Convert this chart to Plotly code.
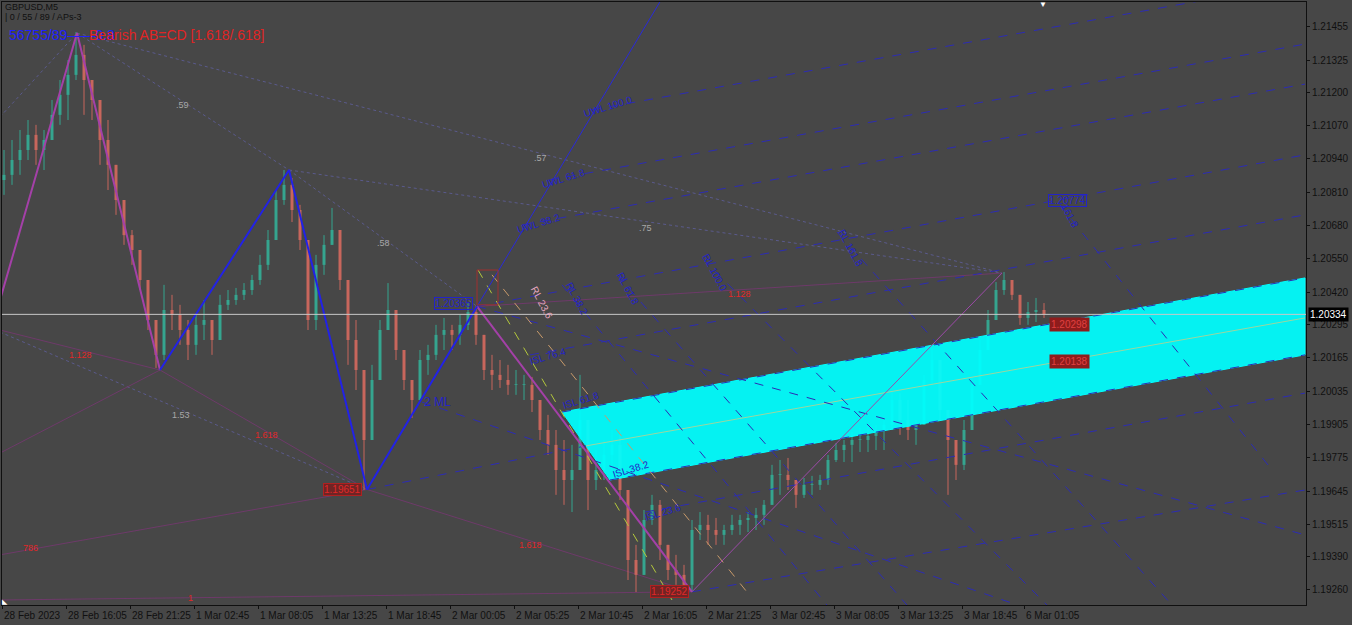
import plotly.graph_objects as go

# ---------------- data ----------------
Y_TICKS = [1.21455, 1.21325, 1.21200, 1.21070, 1.20940, 1.20810, 1.20680, 1.20550, 1.20420,
           1.20295, 1.20165, 1.20035, 1.19905, 1.19775, 1.19645, 1.19515, 1.19390, 1.19260]
X_TICK_BARS = [0, 64, 128, 192, 256, 320, 384, 448, 512, 576, 640, 704, 768, 832, 896, 960, 1022]
X_TICK_TEXT = ["28 Feb 2023", "28 Feb 16:05", "28 Feb 21:25", "1 Mar 02:45", "1 Mar 08:05",
               "1 Mar 13:25", "1 Mar 18:45", "2 Mar 00:05", "2 Mar 05:25", "2 Mar 10:45",
               "2 Mar 16:05", "2 Mar 21:25", "3 Mar 02:45", "3 Mar 08:05", "3 Mar 13:25",
               "3 Mar 18:45", "6 Mar 01:05"]
BID = 1.20334

FIRST_OPEN = 1.20858
HIGH = [1.20975, 1.21014, 1.21053, 1.21092, 1.21073, 1.21053, 1.21170, 1.21248, 1.21326, 1.21435,
        1.21385, 1.21248, 1.21131, 1.21092, 1.20897, 1.20780, 1.20663, 1.20585, 1.20449, 1.20312,
        1.20449, 1.20410, 1.20371, 1.20312, 1.20332, 1.20390, 1.20312, 1.20410, 1.20429, 1.20437,
        1.20456, 1.20488, 1.20566, 1.20663, 1.20819, 1.20897, 1.20866, 1.20761, 1.20585, 1.20566,
        1.20643, 1.20749, 1.20643, 1.20390, 1.20312, 1.20000, 1.20137, 1.20312, 1.20456, 1.20312,
        1.20195, 1.20078, 1.20195, 1.20215, 1.20293, 1.20320, 1.20293, 1.20332, 1.20378, 1.20365,
        1.20254, 1.20176, 1.20156, 1.20137, 1.20117, 1.20098, 1.20090, 1.20000, 1.19942, 1.19883,
        1.19844, 1.19825, 1.20098, 1.19883, 1.19805, 1.19844, 1.19883, 1.19883, 1.19610, 1.19435,
        1.19571, 1.19630, 1.19610, 1.19435, 1.19396, 1.19357, 1.19532, 1.19563, 1.19552, 1.19540,
        1.19513, 1.19552, 1.19552, 1.19563, 1.19579, 1.19610, 1.19747, 1.19766, 1.19774, 1.19688,
        1.19696, 1.19704, 1.19708, 1.19786, 1.19832, 1.19844, 1.19875, 1.19891, 1.19899, 1.19903,
        1.19922, 1.20031, 1.20027, 1.20000, 1.19922, 1.20098, 1.20203, 1.20098, 1.19942, 1.19844,
        1.19922, 1.20086, 1.20234, 1.20351, 1.20460, 1.20499, 1.20456, 1.20390, 1.20382, 1.20398,
        1.20378]
LOW = [1.20800, 1.20839, 1.20878, 1.20936, 1.20917, 1.20897, 1.21034, 1.21073, 1.21092, 1.21248,
       1.21112, 1.21092, 1.20917, 1.20819, 1.20722, 1.20605, 1.20527, 1.20429, 1.20273, 1.20125,
       1.20156, 1.20273, 1.20215, 1.20156, 1.20176, 1.20234, 1.20176, 1.20254, 1.20351, 1.20371,
       1.20390, 1.20410, 1.20449, 1.20507, 1.20643, 1.20761, 1.20694, 1.20585, 1.20273, 1.20273,
       1.20488, 1.20605, 1.20429, 1.20137, 1.20039, 1.19649, 1.19883, 1.20078, 1.20273, 1.20156,
       1.20039, 1.19930, 1.20000, 1.20098, 1.20156, 1.20195, 1.20195, 1.20215, 1.20273, 1.20215,
       1.20078, 1.20039, 1.20047, 1.20020, 1.20020, 1.20000, 1.19953, 1.19844, 1.19786, 1.19630,
       1.19591, 1.19563, 1.19844, 1.19571, 1.19649, 1.19688, 1.19727, 1.19610, 1.19298, 1.19251,
       1.19376, 1.19513, 1.19376, 1.19298, 1.19279, 1.19259, 1.19252, 1.19454, 1.19435, 1.19435,
       1.19435, 1.19474, 1.19474, 1.19485, 1.19493, 1.19513, 1.19591, 1.19630, 1.19649, 1.19579,
       1.19618, 1.19630, 1.19649, 1.19669, 1.19758, 1.19758, 1.19758, 1.19797, 1.19797, 1.19805,
       1.19805, 1.19883, 1.19864, 1.19844, 1.19825, 1.19953, 1.20059, 1.19922, 1.19630, 1.19688,
       1.19727, 1.19922, 1.20078, 1.20215, 1.20320, 1.20410, 1.20390, 1.20293, 1.20293, 1.20304,
       1.20320]
CLOSE = [1.20878, 1.20936, 1.20975, 1.21034, 1.20975, 1.21014, 1.21112, 1.21190, 1.21268, 1.21346,
         1.21248, 1.21170, 1.21014, 1.20917, 1.20780, 1.20643, 1.20585, 1.20468, 1.20312, 1.20176,
         1.20351, 1.20332, 1.20273, 1.20215, 1.20293, 1.20312, 1.20234, 1.20371, 1.20390, 1.20410,
         1.20429, 1.20468, 1.20527, 1.20624, 1.20780, 1.20839, 1.20741, 1.20624, 1.20312, 1.20527,
         1.20605, 1.20663, 1.20468, 1.20234, 1.20117, 1.19844, 1.20078, 1.20273, 1.20351, 1.20195,
         1.20078, 1.20000, 1.20156, 1.20176, 1.20254, 1.20273, 1.20254, 1.20293, 1.20343, 1.20254,
         1.20117, 1.20098, 1.20078, 1.20059, 1.20059, 1.20059, 1.20000, 1.19883, 1.19825, 1.19727,
         1.19688, 1.19727, 1.19922, 1.19688, 1.19727, 1.19786, 1.19825, 1.19649, 1.19376, 1.19318,
         1.19532, 1.19591, 1.19435, 1.19337, 1.19318, 1.19279, 1.19493, 1.19513, 1.19493, 1.19474,
         1.19493, 1.19513, 1.19532, 1.19540, 1.19552, 1.19591, 1.19708, 1.19708, 1.19688, 1.19630,
         1.19669, 1.19669, 1.19688, 1.19766, 1.19805, 1.19825, 1.19844, 1.19844, 1.19860, 1.19883,
         1.19903, 1.20000, 1.19922, 1.19883, 1.19903, 1.20078, 1.20156, 1.19961, 1.19844, 1.19747,
         1.19883, 1.20059, 1.20195, 1.20312, 1.20429, 1.20468, 1.20410, 1.20320, 1.20343, 1.20351,
         1.20334]
BAR_STEP = 8
CANDLE_BARS = [2 + BAR_STEP * i for i in range(len(CLOSE))]
OPEN = [FIRST_OPEN] + CLOSE[:-1]

# swing zigzags (bar, price)
MAG_BARS = [-2, 75, 158]
MAG_PRICES = [1.20390, 1.21431, 1.20117]
MAG2_BARS = [475, 690]
MAG2_PRICES = [1.20365, 1.19252]
MAG3_BARS = [690, 1000]
MAG3_PRICES = [1.19252, 1.20495]
BLUE_BARS = [158, 287, 365, 475]
BLUE_PRICES = [1.20117, 1.20897, 1.19651, 1.20365]
BLUE_EXT_BARS = [475, 660]
BLUE_EXT_PRICES = [1.20365, 1.21566]

# dotted retracement connectors
DOT_X0 = [-2, 75, 287, 75, 287, -2]
DOT_P0 = [1.21104, 1.21431, 1.20897, 1.21431, 1.20897, 1.20265]
DOT_X1 = [75, 287, 475, 1000, 1000, 365]
DOT_P1 = [1.21431, 1.20897, 1.20365, 1.20495, 1.20495, 1.19651]

# thin purple ratio lines
RAT_X0 = [-2, 158, -2, 365, 475, -2, -2]
RAT_P0 = [1.20273, 1.20117, 1.19793, 1.19651, 1.20365, 1.19396, 1.19220]
RAT_X1 = [158, 365, 158, 690, 1000, 365, 690]
RAT_P1 = [1.20117, 1.19651, 1.20117, 1.19252, 1.20495, 1.19651, 1.19252]

# pitchfork dashed lines
PF_X0 = [475, 520, 547, 589, 528, 560, 608, 643, 690, 365, 420, 475, 560, 615, 700, 835, 1058]
PF_P0 = [1.20365, 1.20683, 1.20858, 1.21131, 1.20176, 1.19953, 1.19688, 1.19563, 1.19252, 1.19651,
         1.19992, 1.20365, 1.20449, 1.20488, 1.20554, 1.20655, 1.20761]
PF_X1 = [1303, 1303, 1303, 1303, 1303, 1303, 1303, 1303, 1303, 584, 1010, 1303, 825, 905, 1045, 1170, 1270]
PF_P1 = [1.20956, 1.21232, 1.21388, 1.21630, 1.20722, 1.20476, 1.20176, 1.20027, 1.19649, 1.19821,
         1.19208, 1.19474, 1.19200, 1.19200, 1.19200, 1.19200, 1.19727]
TAN_BARS = [490, 745]
TAN_PRICES = [1.20488, 1.19251]
YEL_BARS = [476, 670]
YEL_PRICES = [1.20507, 1.19220]

# cyan zone (bar, price)
ZONE_BARS = [560, 1303, 1303, 608]
ZONE_PRICES = [1.19953, 1.20476, 1.20176, 1.19688]
ZONE_MID_BARS = [584, 1303]
ZONE_MID_PRICES = [1.19821, 1.20320]
BOX_BARS = [475, 496]
BOX_PRICES = [1.20507, 1.20371]

# ---------------- figure ----------------
BG = "#474747"
BULL = "#35a58f"
BEAR = "#c8665c"
BLUE = "#2323c8"
PF = "#2c2cb4"

fig = go.Figure()


def seg_trace(x0, p0, x1, p1, color, width, dash="solid", opacity=1.0):
    xs, ys = [], []
    for a, b, c, d in zip(x0, p0, x1, p1):
        xs += [a, c, None]
        ys += [b, d, None]
    fig.add_trace(go.Scatter(x=xs, y=ys, mode="lines", line=dict(color=color, width=width, dash=dash),
                             opacity=opacity, hoverinfo="skip", showlegend=False))


def poly_trace(xs, ys, color, width, dash="solid"):
    fig.add_trace(go.Scatter(x=xs, y=ys, mode="lines", line=dict(color=color, width=width, dash=dash),
                             hoverinfo="skip", showlegend=False))


# background drawing objects
seg_trace(DOT_X0, DOT_P0, DOT_X1, DOT_P1, "#5a5a8c", 1, "dot")
seg_trace(RAT_X0, RAT_P0, RAT_X1, RAT_P1, "#6e3a6a", 1)

# candles
for up, col in ((True, BULL), (False, BEAR)):
    wx, wy, bx, by = [], [], [], []
    for t, o, h, l, c in zip(CANDLE_BARS, OPEN, HIGH, LOW, CLOSE):
        if (c >= o) != up:
            continue
        wx += [t, t, None]
        wy += [min(l, o, c), max(h, o, c), None]
        bx += [t, t, None]
        by += [o, c if abs(c - o) > 0.00002 else o + 0.00003, None]
    fig.add_trace(go.Scatter(x=wx, y=wy, mode="lines", line=dict(color=col, width=1),
                             hoverinfo="skip", showlegend=False))
    fig.add_trace(go.Scatter(x=bx, y=by, mode="lines", line=dict(color=col, width=3),
                             hoverinfo="skip", showlegend=False))

# cyan zone
fig.add_trace(go.Scatter(x=ZONE_BARS + ZONE_BARS[:1], y=ZONE_PRICES + ZONE_PRICES[:1], mode="lines",
                         fill="toself", fillcolor="rgba(0,255,255,0.93)", line=dict(color="#00ffff", width=1),
                         hoverinfo="skip", showlegend=False))
poly_trace(ZONE_MID_BARS, ZONE_MID_PRICES, "#9ad7a0", 1)

# pitchfork lines
seg_trace(PF_X0, PF_P0, PF_X1, PF_P1, PF, 1, "dash")
poly_trace(TAN_BARS, TAN_PRICES, "#c89a6a", 1, "dash")
poly_trace(YEL_BARS, YEL_PRICES, "#b4c83c", 1, "dash")

# zigzags
poly_trace(MAG_BARS, MAG_PRICES, "#a440a8", 2)
poly_trace(MAG2_BARS, MAG2_PRICES, "#a440a8", 2)
poly_trace(MAG3_BARS, MAG3_PRICES, "#9c4aa8", 1)
poly_trace(BLUE_BARS, BLUE_PRICES, "#2222e6", 2)
poly_trace(BLUE_EXT_BARS, BLUE_EXT_PRICES, "#2a2ad8", 1)

# red box
fig.add_trace(go.Scatter(x=[BOX_BARS[0], BOX_BARS[1], BOX_BARS[1], BOX_BARS[0], BOX_BARS[0]],
                         y=[BOX_PRICES[0], BOX_PRICES[0], BOX_PRICES[1], BOX_PRICES[1], BOX_PRICES[0]],
                         mode="lines", line=dict(color="#a03030", width=1), hoverinfo="skip", showlegend=False))

# bid line
fig.add_trace(go.Scatter(x=[-2, 1304], y=[BID, BID], mode="lines", line=dict(color="#c8c8c8", width=1),
                         hoverinfo="skip", showlegend=False))

W, H = 1352, 625
ML, MR, MT, MB = 2, 46, 2, 20
PW, PH = W - ML - MR, H - MT - MB


def px(x):
    return (x - ML) / PW


def py(y):
    return 1 - (y - MT) / PH


ann = []


def text(x, y, s, color, size=9, angle=0, xanchor="center", font="Liberation Sans", **kw):
    ann.append(dict(x=px(x), y=py(y), xref="paper", yref="paper", text=s, showarrow=False,
                    font=dict(color=color, size=size, family=font), textangle=angle,
                    xanchor=xanchor, yanchor="middle", **kw))


# header
text(3, 7, "GBPUSD,M5", "#101010", 9, xanchor="left")
text(3, 17, "| 0 / 55 / 89 / APs-3", "#101010", 9, xanchor="left")
text(7, 35, "56755/89——0.8", "#2020ff", 14, xanchor="left")
text(87, 35, "Bearish AB=CD [1.618/.618]", "#e02424", 14, xanchor="left")

# gray ratio labels
for x, y, s in [(182, 105, ".59"), (383, 243, ".58"), (540, 158, ".57"), (645, 228, ".75"), (181, 415, "1.53")]:
    text(x, y, s, "#a8a8a8", 9)
# red ratio labels
for x, y, s in [(80, 355, "1.128"), (266, 435, "1.618"), (530, 545, "1.618"), (740, 294, "1.128"),
                (30, 548, "786"), (190, 598, "1")]:
    text(x, y, s, "#e02828", 9)

# pitchfork labels
for x, y, s in [(608, 107, "UWL 100.0"), (563, 178, "UWL 61.8"), (538, 223, "UWL 38.2"),
                (547, 356, "ISL 76.4"), (580, 400, "ISL 61.8"), (630, 469, "ISL 38.2"), (662, 512, "ISL 23.6")]:
    text(x, y, s, BLUE, 10, angle=-17)
text(542, 302, "RL 23.6", "#e8a8c0", 10, angle=62)
for x, y, s in [(577, 298, "RL 38.2"), (628, 288, "RL 61.8"), (715, 272, "RL 100.0"), (850, 248, "RL 161.8"),
                (1070, 215, "161.8")]:
    text(x, y, s, BLUE, 10, angle=62)
text(437, 402, "2 ML", BLUE, 12)

# price boxes
text(473, 303, "1.20365", BLUE, 10, xanchor="right", bordercolor=BLUE, borderwidth=1, borderpad=0)
text(1048, 201, "1.20774", BLUE, 10, xanchor="left", bordercolor=BLUE, borderwidth=1, borderpad=0)
text(1049, 324, "1.20298", "#e04040", 10, xanchor="left", bgcolor="#8e1c1c", borderpad=1)
text(1049, 362, "1.20138", "#e04040", 10, xanchor="left", bgcolor="#8e1c1c", borderpad=1)
text(342, 489, "1.19651", "#e02828", 10, bgcolor="#702424", bordercolor="#b02020", borderwidth=1, borderpad=0)
text(669, 591, "1.19252", "#e02828", 10, bgcolor="#702424", bordercolor="#b02020", borderwidth=1, borderpad=0)

# current price label on axis
ann.append(dict(x=1, y=BID, xref="paper", yref="y", text="1.20334", showarrow=False, xanchor="left",
                yanchor="middle", xshift=2, bgcolor="#000000",
                font=dict(color="#ffffff", size=10, family="Liberation Sans")))
# shift marker and corner marker
text(1043, 5, "▼", "#ffffff", 8)
text(5, 601, "◣", "#ffffff", 7)

# x labels
for b, s in zip(X_TICK_BARS, X_TICK_TEXT):
    ann.append(dict(x=b, y=0, xref="x", yref="paper", text=s, showarrow=False, xanchor="left",
                    yanchor="top", yshift=-3, font=dict(color="#101010", size=10, family="Liberation Sans")))

fig.update_layout(
    width=W, height=H, margin=dict(l=ML, r=MR, t=MT, b=MB, autoexpand=False),
    paper_bgcolor=BG, plot_bgcolor=BG, showlegend=False, annotations=ann,
    xaxis=dict(range=[0, PW], showgrid=False, zeroline=False, tickvals=X_TICK_BARS, showticklabels=False,
               ticks="outside", ticklen=3, tickcolor="#101010", showline=True, linecolor="#101010",
               mirror=True, fixedrange=True),
    yaxis=dict(range=[1.2156 - 0.000039 * (MT + PH), 1.2156 - 0.000039 * MT], side="right", showgrid=False,
               zeroline=False, tickvals=Y_TICKS, ticktext=[f"{v:.5f}" for v in Y_TICKS], ticks="outside",
               ticklen=3, tickcolor="#101010", showline=True, linecolor="#101010", mirror=True,
               tickfont=dict(color="#101010", size=10, family="Liberation Sans"), fixedrange=True),
)

fig.write_html("out.html", config={"displayModeBar": False},
               post_script="document.body.style.margin='0';document.body.style.background='%s';" % BG)
